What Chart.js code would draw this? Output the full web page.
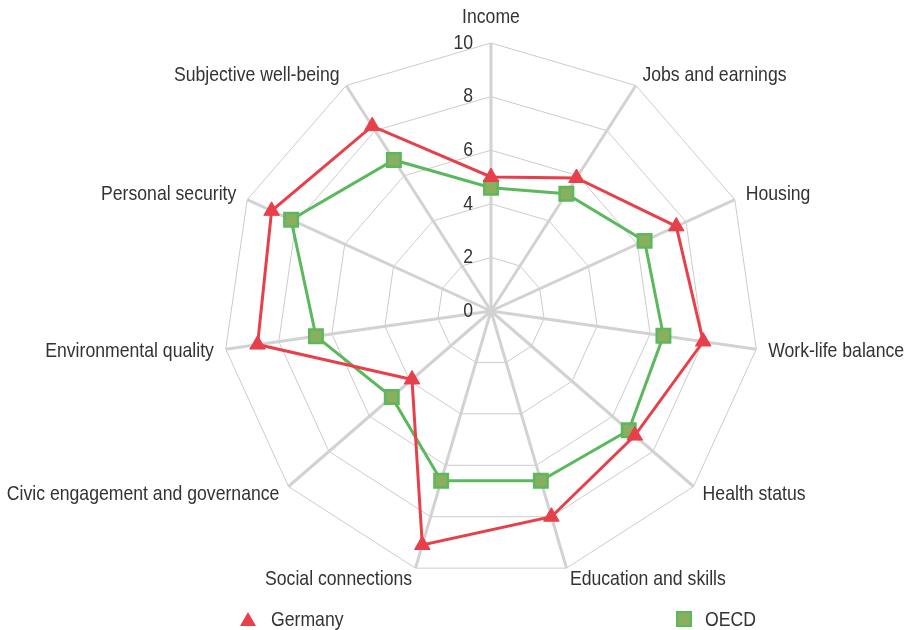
<!DOCTYPE html>
<html>
<head>
<meta charset="utf-8">
<script src="https://cdn.jsdelivr.net/npm/chart.js@4"></script>
<style>
  body { margin: 0; background: #fff; }
  #wrap { position: relative; width: 906px; height: 630px; }
  .legend { position: absolute; top: 607px; font: 21px 'Liberation Sans', Arial, sans-serif; color: #333; display: flex; align-items: center; }
  .legend b { font-weight: normal; display: inline-block; transform: scaleX(0.84); transform-origin: left center; }
  .tri { width: 0; height: 0; border-left: 8px solid transparent; border-right: 8px solid transparent; border-bottom: 14px solid #e8404b; margin-right: 15px; }
  .sq { width: 12px; height: 12px; background: #8aaf5e; border: 2px solid #5cb85c; margin-right: 13px; }
</style>
</head>
<body>
<div id="wrap">
  <canvas id="radar" width="906" height="630"></canvas>
  <div class="legend" style="left:240px"><span class="tri"></span><b>Germany</b></div>
  <div class="legend" style="left:676px"><span class="sq"></span><b>OECD</b></div>
</div>
<script>
const categories = ['Income', 'Jobs and earnings', 'Housing', 'Work-life balance', 'Health status',
    'Education and skills', 'Social connections', 'Civic engagement and governance',
    'Environmental quality', 'Personal security', 'Subjective well-being'];
const germany = [5.0, 5.9, 7.6, 8.0, 7.1, 8.0, 9.1, 3.9, 8.8, 9.0, 8.2];
const oecd = [4.6, 5.2, 6.3, 6.5, 6.8, 6.6, 6.6, 4.9, 6.6, 8.2, 6.7];
const tickValues = [0, 2, 4, 6, 8, 10];

const labelFont = "21px 'Liberation Sans', Arial, sans-serif";
const squeeze = 0.84; // condensed look

function narrowText(ctx, text, x, y) {
    ctx.save();
    ctx.translate(x, y);
    ctx.scale(squeeze, 1);
    ctx.fillText(text, 0, 0);
    ctx.restore();
}

// draws tick numbers (incl. 0) and the point labels, positioned by the scale
const labelsPlugin = {
    id: 'radarLabels',
    afterDraw(chart) {
        const scale = chart.scales.r;
        const ctx = chart.ctx;
        ctx.save();
        ctx.font = labelFont;
        ctx.fillStyle = '#333';
        ctx.textBaseline = 'middle';
        ctx.textAlign = 'right';
        tickValues.forEach(v => {
            const d = scale.getDistanceFromCenterForValue(v);
            narrowText(ctx, String(v), scale.xCenter - 18, scale.yCenter - d);
        });
        categories.forEach((name, i) => {
            const p = scale.getPointPosition(i, scale.drawingArea + 12);
            const dx = p.x - scale.xCenter;
            if (Math.abs(dx) < 1) {
                ctx.textAlign = 'center';
                narrowText(ctx, name, p.x, p.y - 14);
            } else {
                ctx.textAlign = dx > 0 ? 'left' : 'right';
                narrowText(ctx, name, p.x, p.y);
            }
        });
        ctx.restore();
    }
};

new Chart(document.getElementById('radar'), {
    type: 'radar',
    data: {
        labels: categories,
        datasets: [{
            label: 'Germany',
            data: germany,
            borderColor: '#e8404b',
            backgroundColor: 'rgba(0,0,0,0)',
            borderWidth: 3,
            fill: false,
            pointStyle: 'triangle',
            pointRadius: 9,
            pointHoverRadius: 9,
            pointBorderWidth: 1,
            pointBackgroundColor: '#e8404b',
            pointBorderColor: '#e8404b'
        }, {
            label: 'OECD',
            data: oecd,
            borderColor: '#5cb85c',
            backgroundColor: 'rgba(0,0,0,0)',
            borderWidth: 3,
            fill: false,
            pointStyle: 'rect',
            pointRadius: 9.5,
            pointHoverRadius: 9.5,
            pointBorderWidth: 2.5,
            pointBackgroundColor: '#8aaf5e',
            pointBorderColor: '#5cb85c'
        }]
    },
    options: {
        responsive: false,
        animation: false,
        layout: { padding: { left: 223, right: 147, top: 43, bottom: 51 } },
        plugins: { legend: { display: false }, tooltip: { enabled: false } },
        scales: {
            r: {
                min: 0,
                max: 10,
                ticks: { stepSize: 2, display: false },
                grid: { color: '#cccccc', lineWidth: 1, circular: false },
                angleLines: { color: '#d2d2d2', lineWidth: 3 },
                pointLabels: { display: false }
            }
        }
    },
    plugins: [labelsPlugin]
});
</script>
</body>
</html>
